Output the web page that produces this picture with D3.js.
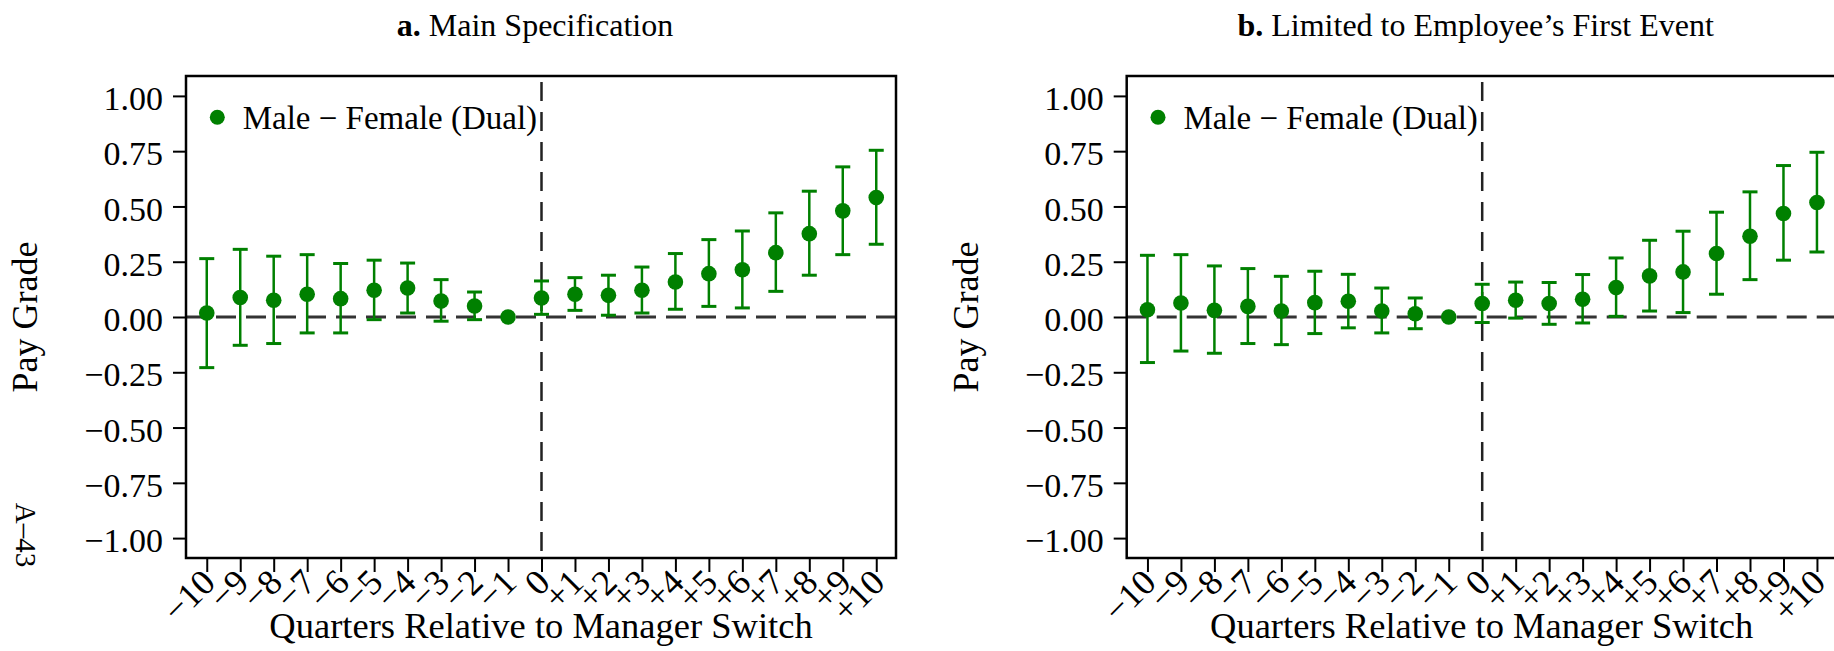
<!DOCTYPE html>
<html>
<head>
<meta charset="utf-8">
<script src="https://cdn.jsdelivr.net/npm/d3@7/dist/d3.min.js"></script>
<style>
  html, body { margin: 0; padding: 0; background: #fff; }
  svg text { font-family: "Liberation Serif", "Times New Roman", serif; fill: #000; }
</style>
</head>
<body>
<svg id="chart" width="1834" height="651"></svg>
<script>
// Event-time quarters and their axis labels
const quarters = [-10, -9, -8, -7, -6, -5, -4, -3, -2, -1, 0, 1, 2, 3, 4, 5, 6, 7, 8, 9, 10];
const quarterLabels = ["\u221210", "\u22129", "\u22128", "\u22127", "\u22126", "\u22125", "\u22124", "\u22123", "\u22122", "\u22121",
  "0", "+1", "+2", "+3", "+4", "+5", "+6", "+7", "+8", "+9", "+10"];
const yTicks = [1, 0.75, 0.5, 0.25, 0, -0.25, -0.5, -0.75, -1];
const yTickLabels = ["1.00", "0.75", "0.50", "0.25", "0.00", "\u22120.25", "\u22120.50", "\u22120.75", "\u22121.00"];

// Panel a: main specification (point estimate, 95% CI bounds); quarter -1 is the omitted reference
const mainEst = [0.018, 0.088, 0.076, 0.103, 0.083, 0.121, 0.131, 0.072, 0.050, 0, 0.086, 0.103, 0.098, 0.121, 0.158, 0.196, 0.214, 0.291, 0.377, 0.480, 0.540];
const mainLo  = [-0.229, -0.128, -0.120, -0.072, -0.072, -0.012, 0.018, -0.019, -0.012, null, 0.012, 0.030, 0.008, 0.018, 0.035, 0.048, 0.041, 0.116, 0.189, 0.282, 0.329];
const mainHi  = [0.264, 0.306, 0.275, 0.282, 0.242, 0.257, 0.244, 0.169, 0.113, null, 0.163, 0.178, 0.189, 0.226, 0.287, 0.350, 0.389, 0.471, 0.569, 0.679, 0.754];

// Panel b: limited to the employee's first event
const firstEst = [0.033, 0.063, 0.030, 0.048, 0.027, 0.065, 0.071, 0.027, 0.015, 0, 0.061, 0.076, 0.061, 0.080, 0.133, 0.186, 0.204, 0.287, 0.365, 0.468, 0.518];
const firstLo  = [-0.206, -0.154, -0.164, -0.120, -0.125, -0.075, -0.049, -0.072, -0.053, null, -0.025, -0.005, -0.033, -0.027, 0.003, 0.027, 0.020, 0.103, 0.169, 0.257, 0.294];
const firstHi  = [0.279, 0.282, 0.231, 0.219, 0.184, 0.207, 0.193, 0.131, 0.086, null, 0.148, 0.158, 0.156, 0.192, 0.267, 0.347, 0.388, 0.474, 0.566, 0.685, 0.745];

const panels = [
  { letter: "a.", title: " Main Specification", est: mainEst, lo: mainLo, hi: mainHi, left: 186, pageNo: true },
  { letter: "b.", title: " Limited to Employee\u2019s First Event", est: firstEst, lo: firstLo, hi: firstHi, left: 1126.7, pageNo: false }
];

const GREEN = "#008000";
const plotW = 710, plotTop = 76, plotBottom = 558;
const svg = d3.select("#chart");

panels.forEach(p => {
  const x = d3.scaleLinear().domain([-10.62, 10.59]).range([p.left, p.left + plotW]);
  const y = d3.scaleLinear().domain([-1.09, 1.09]).range([plotBottom, plotTop]);
  const g = svg.append("g");

  // Panel title
  const t = g.append("text")
    .attr("x", p.left + plotW / 2 - 6).attr("y", 36)
    .attr("text-anchor", "middle").style("font-size", "32px");
  t.append("tspan").style("font-weight", "bold").text(p.letter);
  t.append("tspan").text(p.title);

  // Y axis
  const yAxis = g.append("g").attr("transform", `translate(${p.left},0)`)
    .call(d3.axisLeft(y).tickValues(yTicks).tickSize(13).tickPadding(10)
      .tickFormat((d, i) => yTickLabels[i]));
  yAxis.select(".domain").remove();
  yAxis.selectAll(".tick line").attr("stroke", "#000").attr("stroke-width", 2);
  yAxis.selectAll(".tick text").style("font-size", "34px").attr("dy", "0.4em")
    .style("font-family", "Liberation Serif, serif");

  // X axis with labels slanted at 45 degrees
  const xAxis = g.append("g").attr("transform", `translate(0,${plotBottom})`)
    .call(d3.axisBottom(x).tickValues(quarters).tickSize(14)
      .tickFormat((d, i) => quarterLabels[i]));
  xAxis.select(".domain").remove();
  xAxis.selectAll(".tick line").attr("stroke", "#000").attr("stroke-width", 2);
  xAxis.selectAll(".tick text")
    .style("font-size", "36px").style("font-family", "Liberation Serif, serif")
    .attr("x", null).attr("y", null).attr("dy", null)
    .attr("text-anchor", "end")
    .attr("transform", "translate(10,26.5) rotate(-45)");

  // Reference lines at zero
  g.append("line")
    .attr("x1", p.left).attr("x2", p.left + plotW)
    .attr("y1", y(0)).attr("y2", y(0))
    .attr("stroke", "#333").attr("stroke-width", 3).attr("stroke-dasharray", "20,10");
  g.append("line")
    .attr("x1", x(0)).attr("x2", x(0))
    .attr("y1", plotTop + 6).attr("y2", plotBottom)
    .attr("stroke", "#222").attr("stroke-width", 2.5).attr("stroke-dasharray", "19,11");

  // Frame
  g.append("rect")
    .attr("x", p.left).attr("y", plotTop).attr("width", plotW).attr("height", plotBottom - plotTop)
    .attr("fill", "none").attr("stroke", "#000").attr("stroke-width", 2.5);

  // Confidence intervals
  const rows = quarters.map((q, i) => ({ q, est: p.est[i], lo: p.lo[i], hi: p.hi[i] }));
  const ci = rows.filter(r => r.lo !== null && r.hi !== null);
  const bars = g.append("g").attr("stroke", GREEN);
  bars.selectAll("line.stem").data(ci).join("line").attr("class", "stem")
    .attr("x1", d => x(d.q)).attr("x2", d => x(d.q))
    .attr("y1", d => y(d.lo)).attr("y2", d => y(d.hi)).attr("stroke-width", 2.5);
  ["lo", "hi"].forEach(k => {
    bars.selectAll("line.cap-" + k).data(ci).join("line").attr("class", "cap-" + k)
      .attr("x1", d => x(d.q) - 7.5).attr("x2", d => x(d.q) + 7.5)
      .attr("y1", d => y(d[k])).attr("y2", d => y(d[k])).attr("stroke-width", 3);
  });

  // Point estimates
  g.append("g").selectAll("circle").data(rows).join("circle")
    .attr("cx", d => x(d.q)).attr("cy", d => y(d.est)).attr("r", 7.8).attr("fill", GREEN);

  // Legend
  g.append("circle").attr("cx", p.left + 31.3).attr("cy", 117.3).attr("r", 7.5).attr("fill", GREEN);
  g.append("text").attr("x", p.left + 56.7).attr("y", 129.3).style("font-size", "33px")
    .text("Male \u2212 Female (Dual)");

  // Axis titles
  g.append("text")
    .attr("transform", `translate(${p.left - 149},${(plotTop + plotBottom) / 2}) rotate(-90)`)
    .attr("text-anchor", "middle").style("font-size", "36px").text("Pay Grade");
  g.append("text")
    .attr("x", p.left + plotW / 2).attr("y", 638)
    .attr("text-anchor", "middle").style("font-size", "36.5px").text("Quarters Relative to Manager Switch");

  // Page number printed along the left margin
  if (p.pageNo) {
    svg.append("text")
      .attr("transform", "translate(15.5,535) rotate(90)")
      .attr("text-anchor", "middle").style("font-size", "29px").text("A\u201343");
  }
});
</script>
</body>
</html>
